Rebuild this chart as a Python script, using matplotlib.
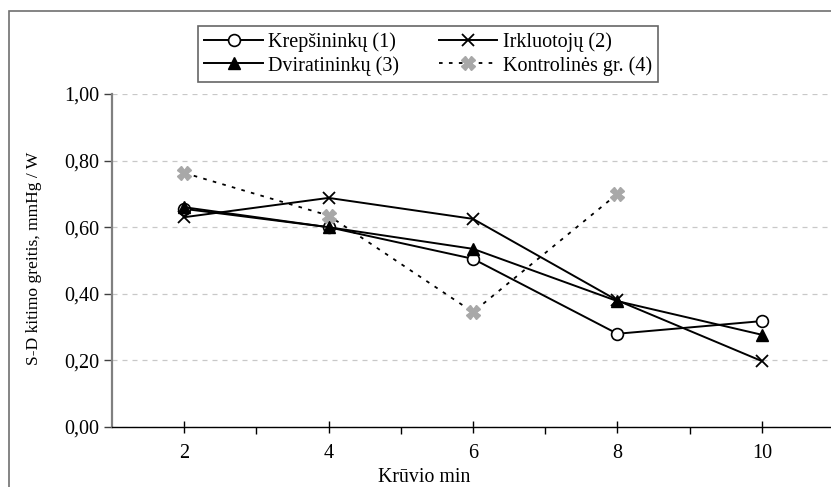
import matplotlib
matplotlib.use('Agg')
import matplotlib.pyplot as plt
from matplotlib.patches import Rectangle
from matplotlib.ticker import FixedLocator, FuncFormatter

plt.rcParams['font.family'] = ['Liberation Serif', 'DejaVu Serif']

# data
load_min = [2, 4, 6, 8, 10]
krepsininku = [0.655, 0.600, 0.505, 0.280, 0.318]
irkluotoju = [0.630, 0.688, 0.625, 0.380, 0.198]
dviratininku = [0.660, 0.600, 0.535, 0.378, 0.277]
kontroline_x = [2, 4, 6, 8]
kontroline = [0.763, 0.635, 0.345, 0.700]

labels = ['Krepšininkų (1)', 'Irkluotojų (2)', 'Dviratininkų (3)', 'Kontrolinės gr. (4)']

W, H = 831, 487
fig = plt.figure(figsize=(W / 100, H / 100), dpi=100)

# outer chart border (cropped at right / bottom)
fig.patches.append(Rectangle((9 / W, -0.1), 1.2, 1 - 11 / H + 0.1,
                             transform=fig.transFigure, fill=False,
                             edgecolor='#707070', linewidth=1.2))

ax = fig.add_axes([112 / W, 1 - 427 / H, (834 - 112) / W, 333 / H])

l1, = ax.plot(load_min, krepsininku, color='black', lw=1.4, marker='o',
              ms=8.5, mfc='white', mec='black', mew=1.2)
l2, = ax.plot(load_min, irkluotoju, color='black', lw=1.4, marker='x',
              ms=9, mew=1.3)
l3, = ax.plot(load_min, dviratininku, color='black', lw=1.4, marker='^',
              ms=8.5, mfc='black', mec='black')
l4, = ax.plot(kontroline_x, kontroline, color='black', lw=1.3,
              linestyle=(0, (2, 3.5)), marker='X', ms=9.5,
              mfc='#a8a8a8', mec='#a8a8a8')

ax.set_xlim(1, 11)
ax.set_ylim(0, 1.0)
ax.xaxis.set_major_locator(FixedLocator(load_min))
ax.xaxis.set_minor_locator(FixedLocator([3, 5, 7, 9]))
ax.yaxis.set_major_locator(FixedLocator([0, 0.2, 0.4, 0.6, 0.8, 1.0]))
ax.yaxis.set_major_formatter(FuncFormatter(lambda v, p: f'{v:.2f}'.replace('.', ',')))

ax.tick_params(axis='x', which='major', direction='inout', length=8, width=1,
               labelsize=14.5, pad=8)
ax.tick_params(axis='x', which='minor', direction='out', length=5, width=1)
ax.tick_params(axis='y', direction='out', length=6, width=1, labelsize=14.5,
               pad=3, color='#404040')

for sp in ['top', 'right']:
    ax.spines[sp].set_visible(False)
ax.spines['left'].set_color('#808080')
ax.spines['left'].set_linewidth(1.6)
ax.spines['bottom'].set_color('black')
ax.spines['bottom'].set_linewidth(1.0)

ax.grid(axis='y', color='#c8c8c8', linestyle=(0, (4, 4)), linewidth=0.9)
ax.set_axisbelow(True)

fig.text(34 / W, 1 - 258 / H, 'S-D kitimo greitis, mmHg / W', rotation=90,
         ha='center', va='center', fontsize=12.6)
fig.text(424 / W, 1 - 478 / H, 'Krūvio min', ha='center', va='center',
         fontsize=14.3)

leg = fig.legend([l1, l3, l2, l4], [labels[0], labels[2], labels[1], labels[3]],
                 ncol=2, loc='upper center', bbox_to_anchor=(428 / W, 1 - 26 / H),
                 bbox_transform=fig.transFigure, fontsize=14.5, frameon=True,
                 fancybox=False, handlelength=2.9, handletextpad=0.25,
                 columnspacing=2.0, borderpad=0.3, labelspacing=0.2,
                 borderaxespad=0)
leg.get_frame().set_edgecolor('#404040')
leg.get_frame().set_linewidth(1.2)

fig.savefig('out.png', dpi=100)
